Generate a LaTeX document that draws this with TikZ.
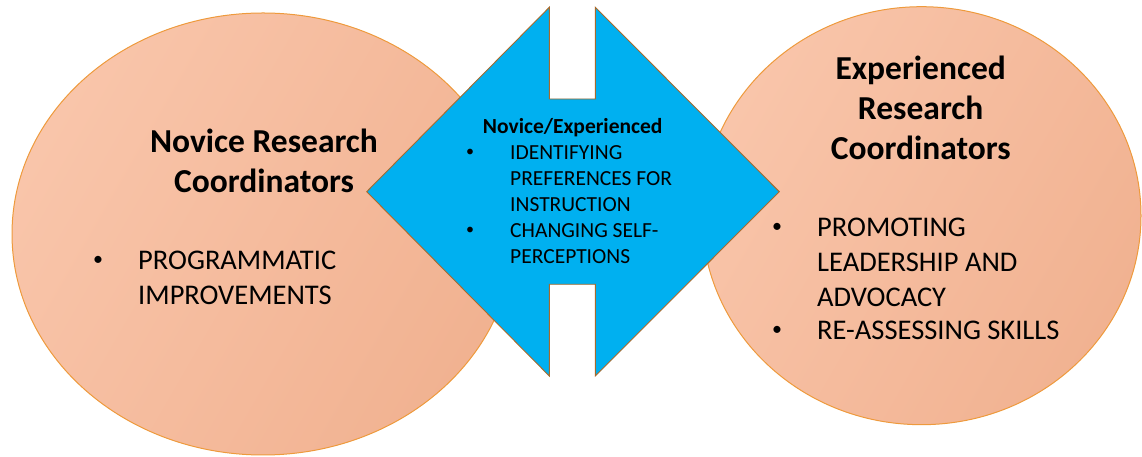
\documentclass[tikz,border=0pt]{standalone}
\usepackage{fontspec}
\setmainfont{Carlito}
\usetikzlibrary{shapes.geometric}
\definecolor{peachL}{HTML}{F9C5AA}
\definecolor{peachD}{HTML}{F1B291}
\definecolor{ellEdge}{HTML}{EE9A3C}
\definecolor{arrowBlue}{HTML}{00B0F0}
\definecolor{arrowEdge}{HTML}{A86A2C}
\tikzset{
  bubble/.style={ellipse, draw=ellEdge, line width=1pt, inner sep=0,
    left color=peachL, right color=peachD, shading angle=60},
  title/.style={font=\fontsize{33.5}{40}\selectfont\bfseries, inner sep=0, anchor=base},
  item/.style={font=\fontsize{28.5}{34}\selectfont, inner sep=0, anchor=base west},
  bul/.style={font=\fontsize{20}{24}\selectfont, inner sep=0, anchor=center},
  ctitle/.style={font=\fontsize{21.5}{26}\selectfont\bfseries, inner sep=0, anchor=base},
  citem/.style={font=\fontsize{21.5}{26}\selectfont, inner sep=0, anchor=base west},
  cbul/.style={font=\fontsize{16}{20}\selectfont, inner sep=0, anchor=center},
  arrowshape/.style={fill=arrowBlue, draw=arrowEdge, line width=0.9pt, line join=miter}
}
\begin{document}
\begin{tikzpicture}[x=1pt,y=1pt]
\useasboundingbox (0,0) rectangle (1142,457);
% ellipses
\node[bubble, minimum width=502pt, minimum height=442pt] (novice) at (263,223) {};
\node[bubble, minimum width=439pt, minimum height=418pt] (expert) at (921.5,241.3) {};
% double arrow
\coordinate (lt) at (366.7,265.3);
\coordinate (rt) at (779.3,265.3);
\draw[arrowshape] (lt) -- (549.3,449.7) -- (549.3,358) -- (595.3,358) -- (595.3,449.7)
  -- (rt) -- (595.3,81) -- (595.3,172.7) -- (549.3,172.7) -- (549.3,81) -- cycle;
% left texts
\node[title] (nt1) at (264,304) {Novice Research};
\node[title] (nt2) at (264,264.5) {Coordinators};
\node[bul] (nb1) at (98,196) {\textbullet};
\node[item] (ni1) at (138,187) {PROGRAMMATIC};
\node[item] (ni2) at (138,152) {IMPROVEMENTS};
% center texts
\node[ctitle] (ct) at (572.7,323) {Novice/Experienced};
\node[cbul] (cb1) at (470,304) {\textbullet};
\node[citem] (ci1) at (510,297) {IDENTIFYING};
\node[citem] (ci2) at (510,271) {PREFERENCES FOR};
\node[citem] (ci3) at (510,245.3) {INSTRUCTION};
\node[cbul] (cb2) at (470,226.3) {\textbullet};
\node[citem] (ci4) at (510,219.3) {CHANGING SELF-};
\node[citem] (ci5) at (510,193.7) {PERCEPTIONS};
% right texts
\node[title] (et1) at (920.7,377.7) {Experienced};
\node[title] (et2) at (920.7,337.7) {Research};
\node[title] (et3) at (920.7,297) {Coordinators};
\node[bul] (eb1) at (777,229.3) {\textbullet};
\node[item] (ei1) at (817,220.3) {PROMOTING};
\node[item] (ei2) at (817,185.3) {LEADERSHIP AND};
\node[item] (ei3) at (817,150.3) {ADVOCACY};
\node[bul] (eb2) at (777,126) {\textbullet};
\node[item] (ei4) at (817,117) {RE-ASSESSING SKILLS};
\end{tikzpicture}
\end{document}
